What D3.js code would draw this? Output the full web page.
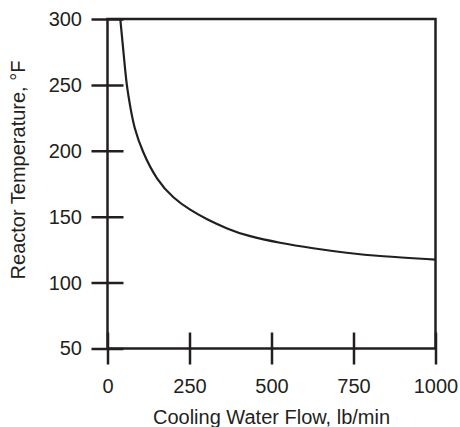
<!DOCTYPE html>
<html>
<head>
<meta charset="utf-8">
<script src="https://cdn.jsdelivr.net/npm/d3@7"></script>
<style>
body { margin: 0; background: #fff; }
text { font-family: "Liberation Sans", Arial, sans-serif; fill: #231f20; }
</style>
</head>
<body>
<div id="chart"></div>
<script>
var flow = [39, 51, 58, 71, 81, 105, 150, 201, 252, 303, 368, 425, 526, 627, 729, 830, 1000];
var temp = [300, 269, 250, 231, 218, 200, 177.7, 164, 155, 148, 140.5, 135.5, 130, 126, 122.5, 120, 117.5];
var xTicks = [0, 250, 500, 750, 1000];
var yTicks = [50, 100, 150, 200, 250, 300];

var W = 460, H = 427;
var m = {left: 107.5, right: 24.5, top: 19, bottom: 78.5};
var w = W - m.left - m.right, h = H - m.top - m.bottom;
var ink = "#231f20";

var svg = d3.select("#chart").append("svg")
    .attr("width", W).attr("height", H);
var g = svg.append("g")
    .attr("transform", "translate(" + m.left + "," + m.top + ")");

var x = d3.scaleLinear().domain([0, 1000]).range([0, w]);
var y = d3.scaleLinear().domain([50, 300]).range([h, 0]);

// frame
g.append("rect")
    .attr("width", w).attr("height", h)
    .attr("fill", "none").attr("stroke", ink).attr("stroke-width", 2.5);

// x axis, ticks cross the line
var xAxis = g.append("g")
    .attr("transform", "translate(0," + h + ")")
    .call(d3.axisBottom(x).tickValues(xTicks).tickFormat(d3.format("d"))
        .tickSize(16).tickPadding(14));
xAxis.select(".domain").remove();
xAxis.selectAll("line").attr("y1", -16).attr("y2", 16)
    .attr("stroke", ink).attr("stroke-width", 2.5);
xAxis.selectAll("text").attr("font-size", 20).style("fill", ink);

// y axis
var yAxis = g.append("g")
    .call(d3.axisLeft(y).tickValues(yTicks).tickSize(16).tickPadding(9.5));
yAxis.select(".domain").remove();
yAxis.selectAll("line").attr("x1", 16).attr("x2", -16)
    .attr("stroke", ink).attr("stroke-width", 2.5);
yAxis.selectAll("text").attr("font-size", 20).style("fill", ink);

// curve
var pts = flow.map(function(d, i) { return [d, temp[i]]; });
var line = d3.line()
    .x(function(d) { return x(d[0]); })
    .y(function(d) { return y(d[1]); })
    .curve(d3.curveBasis);
g.append("path")
    .attr("d", line(pts))
    .attr("fill", "none")
    .attr("stroke", ink)
    .attr("stroke-width", 2.2);

// titles
svg.append("text")
    .attr("x", m.left + w / 2).attr("y", 424)
    .attr("text-anchor", "middle").attr("font-size", 20)
    .text("Cooling Water Flow, lb/min");
svg.append("text")
    .attr("transform", "translate(25,170) rotate(-90)")
    .attr("text-anchor", "middle").attr("font-size", 20)
    .text("Reactor Temperature, °F");
</script>
</body>
</html>
